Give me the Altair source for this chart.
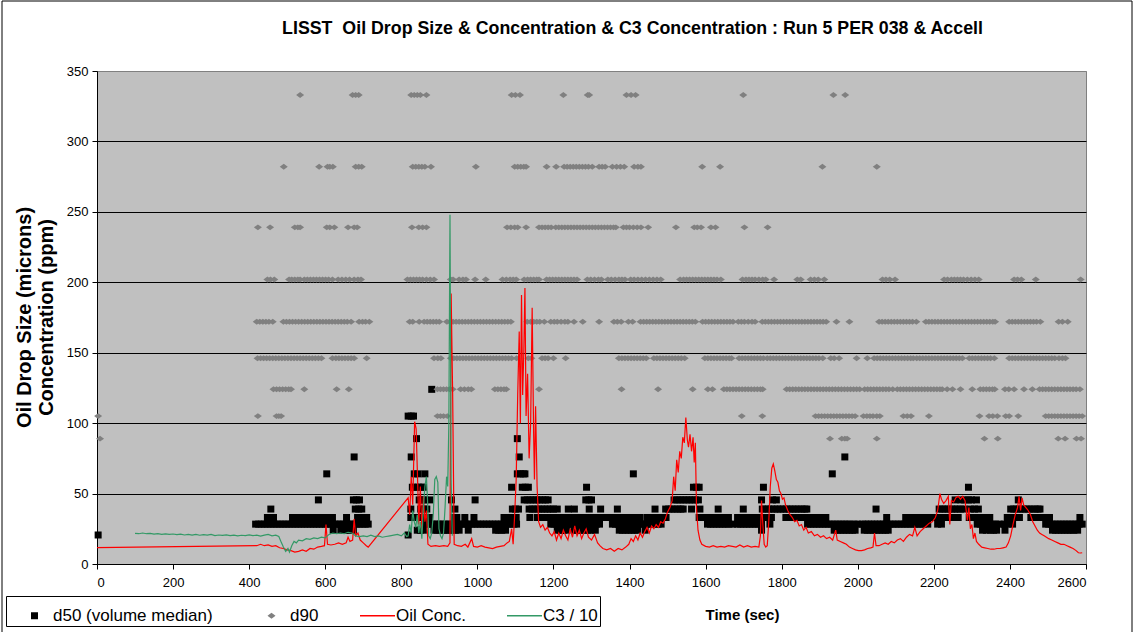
import altair as alt
import pandas as pd

TITLE = "LISST\u00a0 Oil Drop Size & Concentration & C3 Concentration : Run 5 PER 038 & Accell"
SERIES = ["d50 (volume median)", "d90", "Oil Conc.", "C3 / 10"]
COLORS = ["#000000", "#808080", "#FF0000", "#339966"]
X_TICKS = list(range(0, 2601, 200))
Y_TICKS = list(range(0, 351, 50))

# ---------------- d90 (grey diamonds): times (s) at each size bin (microns)
d90_333 = [534, 672, 680, 688, 826, 834, 842, 850, 866, 1090, 1100, 1112, 1226, 1290, 1294,
           1392, 1404, 1416, 1699, 1936, 1967]
d90_282 = [491, 584, 606, 612, 620, 680, 688, 696, 830, 838, 846, 854, 862, 878, 996, 1098,
           1106, 1114, 1122, 1128, 1182, 1207, 1228, 1236, 1244, 1252, 1260, 1268, 1276, 1284,
           1292, 1302, 1320, 1328, 1336, 1355, 1366, 1376, 1386, 1412, 1422, 1430, 1591, 1638,
           1907, 2050]
d90_239 = [423, 455, 520, 528, 534, 604, 612, 624, 660, 676, 684, 828, 846, 856, 866, 1078,
           1088, 1098, 1106, 1128, 1162, 1170, 1178, 1186, 1194, 1206, 1214, 1222, 1230, 1238,
           1246, 1254, 1262, 1270, 1278, 1286, 1294, 1302, 1310, 1318, 1326, 1334, 1342, 1350,
           1358, 1364, 1384, 1392, 1400, 1410, 1420, 1430, 1449, 1522, 1570, 1578, 1588, 1614,
           1626, 1702, 1763]
d90_202 = [448, 456, 466, 505, 512, 520, 528, 534, 545, 553, 561, 569, 577, 585, 593, 601,
           609, 619, 634, 644, 654, 664, 676, 686, 694, 816, 824, 832, 840, 848, 856, 866, 876,
           886, 930, 936, 952, 962, 970, 994, 1022, 1066, 1076, 1086, 1094, 1102, 1123, 1132,
           1140, 1148, 1156, 1162, 1182, 1190, 1198, 1206, 1214, 1222, 1230, 1238, 1246, 1254,
           1262, 1289, 1298, 1308, 1318, 1326, 1343, 1352, 1362, 1372, 1380, 1388, 1403, 1412,
           1422, 1432, 1442, 1452, 1462, 1472, 1482, 1533, 1542, 1550, 1558, 1566, 1574, 1582,
           1590, 1598, 1606, 1614, 1622, 1630, 1640, 1697, 1706, 1714, 1722, 1730, 1740, 1750,
           1758, 1780, 1841, 1850, 1876, 1886, 1896, 1912, 2065, 2074, 2084, 2098, 2227, 2236,
           2246, 2254, 2262, 2270, 2278, 2288, 2298, 2308, 2318, 2411, 2420, 2430, 2468, 2586]
d90_172 = [420, 428, 436, 444, 452, 462, 490, 498, 506, 514, 522, 530, 538, 546, 554, 562,
           570, 578, 586, 594, 602, 610, 618, 626, 634, 642, 650, 658, 668, 689, 698, 706, 716,
           822, 830, 847, 860, 868, 876, 884, 892, 900, 920, 928, 936, 944, 952, 960, 968, 976,
           984, 992, 1000, 1008, 1016, 1024, 1032, 1040, 1048, 1056, 1064, 1072, 1080, 1088,
           1131, 1140, 1148, 1156, 1164, 1176, 1193, 1202, 1210, 1220, 1230, 1238, 1254, 1277,
           1320, 1359, 1368, 1378, 1397, 1408, 1429, 1437, 1445, 1453, 1461, 1469, 1477, 1485,
           1493, 1501, 1509, 1517, 1525, 1533, 1541, 1549, 1557, 1565, 1573, 1592, 1600, 1608,
           1616, 1624, 1632, 1640, 1648, 1656, 1664, 1672, 1686, 1694, 1702, 1712, 1722, 1730,
           1749, 1757, 1765, 1773, 1781, 1789, 1797, 1805, 1813, 1821, 1829, 1837, 1845, 1853,
           1861, 1869, 1877, 1885, 1893, 1901, 1909, 1917, 1944, 1978, 2056, 2064, 2072, 2080,
           2088, 2096, 2104, 2112, 2120, 2128, 2136, 2144, 2154, 2179, 2187, 2195, 2203, 2211,
           2219, 2227, 2235, 2243, 2251, 2259, 2267, 2275, 2283, 2291, 2299, 2307, 2315, 2323,
           2331, 2339, 2347, 2355, 2361, 2398, 2406, 2414, 2422, 2430, 2438, 2446, 2454, 2462,
           2470, 2480, 2528, 2538, 2552]
d90_146 = [422, 430, 438, 446, 454, 462, 470, 478, 486, 494, 502, 510, 518, 526, 534, 542,
           550, 558, 566, 574, 582, 590, 619, 628, 636, 644, 652, 660, 668, 676, 709, 886, 896,
           904, 930, 938, 946, 954, 962, 970, 978, 986, 994, 1002, 1010, 1018, 1026, 1034, 1042,
           1050, 1058, 1066, 1074, 1082, 1090, 1103, 1134, 1142, 1170, 1178, 1186, 1200, 1232,
           1372, 1380, 1388, 1396, 1404, 1412, 1420, 1428, 1436, 1444, 1464, 1472, 1480, 1488,
           1496, 1504, 1512, 1520, 1528, 1536, 1545, 1598, 1606, 1614, 1622, 1630, 1638, 1646,
           1654, 1662, 1668, 1688, 1696, 1704, 1712, 1720, 1728, 1736, 1744, 1752, 1762, 1770,
           1778, 1786, 1794, 1802, 1810, 1818, 1826, 1834, 1842, 1850, 1858, 1866, 1874, 1882,
           1890, 1898, 1908, 1929, 1938, 1951, 1997, 2025, 2043, 2051, 2059, 2067, 2075, 2083,
           2091, 2099, 2107, 2115, 2123, 2131, 2139, 2146, 2155, 2163, 2171, 2179, 2187, 2195,
           2203, 2211, 2219, 2227, 2235, 2243, 2251, 2259, 2267, 2275, 2293, 2301, 2309, 2317,
           2325, 2333, 2341, 2349, 2359, 2398, 2406, 2414, 2422, 2430, 2438, 2446, 2454, 2462,
           2470, 2478, 2486, 2494, 2502, 2510, 2518, 2529, 2538, 2546]
d90_124 = [464, 472, 480, 488, 496, 504, 510, 545, 630, 662, 895, 903, 911, 919, 927, 935,
           956, 966, 976, 984, 1046, 1054, 1062, 1070, 1076, 1162, 1379, 1475, 1566, 1606, 1618,
           1648, 1656, 1664, 1672, 1680, 1688, 1696, 1704, 1712, 1720, 1728, 1736, 1744, 1750,
           1813, 1821, 1829, 1837, 1845, 1853, 1861, 1869, 1877, 1885, 1893, 1901, 1909, 1917,
           1925, 1933, 1941, 1949, 1957, 1965, 1973, 1981, 1989, 1997, 2005, 2018, 2026, 2034,
           2042, 2050, 2058, 2066, 2074, 2082, 2092, 2104, 2112, 2120, 2128, 2136, 2144, 2152,
           2160, 2168, 2176, 2184, 2192, 2200, 2208, 2216, 2222, 2235, 2249, 2270, 2301, 2322,
           2330, 2338, 2346, 2354, 2360, 2387, 2397, 2411, 2437, 2459, 2478, 2486, 2494, 2502,
           2510, 2518, 2526, 2534, 2542, 2550, 2558, 2566, 2574, 2584]
d90_105 = [3, 423, 472, 478, 484, 895, 903, 911, 921, 1695, 1749, 1889, 1897, 1905, 1913,
           1921, 1929, 1937, 1945, 1953, 1961, 1969, 1977, 1985, 1993, 2015, 2024, 2032, 2040,
           2050, 2058, 2120, 2130, 2140, 2187, 2320, 2345, 2355, 2367, 2389, 2398, 2422, 2494,
           2502, 2510, 2518, 2526, 2534, 2542, 2550, 2558, 2566, 2574, 2582, 2590]
d90_89 = [8, 1927, 1958, 1966, 1972, 2050, 2333, 2368, 2527, 2545, 2575, 2587]

# ---------------- d50 (black squares): times (s) at each size bin (microns)
d50_124 = [880]
d50_105 = [818, 826, 832]
d50_89 = [840, 1105]
d50_76 = [676, 826, 1110, 1966]
d50_64 = [604, 834, 844, 862, 1105, 1113, 1121, 1125, 1410, 1933]
d50_55 = [829, 837, 845, 853, 858, 1090, 1118, 1126, 1134, 1287, 1568, 1576, 1583, 1752, 2291]
d50_46 = [582, 674, 682, 690, 847, 855, 862, 875, 932, 994, 1123, 1131, 1139, 1147, 1155,
          1163, 1171, 1179, 1186, 1285, 1293, 1300, 1517, 1525, 1533, 1541, 1549, 1557, 1565,
          1573, 1581, 1747, 1776, 1786, 2256, 2271, 2281, 2291, 2299, 2312, 2422]
d50_39 = [457, 679, 688, 696, 825, 851, 859, 867, 941, 1092, 1100, 1108, 1136, 1144, 1152,
          1160, 1168, 1176, 1184, 1192, 1200, 1210, 1239, 1255, 1294, 1324, 1368, 1467, 1495,
          1503, 1511, 1519, 1527, 1535, 1541, 1563, 1585, 1633, 1699, 1749, 1757, 1765, 1773,
          1781, 1789, 1797, 1805, 1813, 1821, 1829, 1837, 1845, 1853, 1861, 1866, 2048, 2214,
          2222, 2230, 2238, 2246, 2254, 2262, 2270, 2280, 2297, 2307, 2317, 2402, 2410, 2418,
          2426, 2434, 2442, 2450, 2458, 2466, 2474, 2479]
d50_33 = [448, 456, 464, 514, 522, 530, 538, 546, 554, 562, 570, 578, 586, 601, 610, 619,
          656, 685, 694, 702, 709, 825, 833, 841, 849, 857, 865, 874, 939, 946, 967, 991, 1070,
          1078, 1086, 1094, 1102, 1138, 1158, 1166, 1174, 1182, 1190, 1198, 1206, 1214, 1222,
          1230, 1241, 1249, 1257, 1265, 1273, 1281, 1289, 1297, 1305, 1313, 1321, 1330, 1340,
          1348, 1356, 1364, 1381, 1389, 1397, 1412, 1420, 1428, 1447, 1455, 1463, 1471, 1479,
          1487, 1496, 1583, 1591, 1599, 1607, 1615, 1623, 1631, 1639, 1647, 1660, 1684, 1692,
          1700, 1708, 1716, 1724, 1732, 1739, 1749, 1757, 1765, 1773, 1811, 1819, 1827, 1835,
          1843, 1851, 1859, 1867, 1875, 1883, 1891, 1899, 1907, 1916, 2076, 2126, 2134, 2142,
          2150, 2158, 2166, 2174, 2182, 2190, 2198, 2206, 2214, 2224, 2236, 2244, 2251, 2264,
          2293, 2301, 2308, 2323, 2331, 2339, 2347, 2393, 2401, 2409, 2417, 2425, 2455, 2463,
          2471, 2479, 2487, 2495, 2504, 2584]
d50_28 = [417, 425, 433, 441, 449, 457, 465, 473, 481, 489, 497, 505, 513, 521, 529, 537,
          545, 553, 561, 569, 577, 585, 593, 601, 609, 617, 625, 633, 641, 649, 657, 665, 673,
          681, 689, 697, 705, 713, 864, 872, 880, 888, 896, 904, 912, 920, 928, 936, 944, 952,
          960, 968, 976, 984, 992, 1000, 1008, 1016, 1024, 1032, 1040, 1048, 1056, 1064, 1072,
          1080, 1088, 1096, 1103, 1193, 1201, 1209, 1217, 1225, 1233, 1241, 1249, 1257, 1265,
          1273, 1281, 1289, 1297, 1305, 1313, 1321, 1355, 1363, 1371, 1379, 1387, 1395, 1403,
          1411, 1419, 1427, 1435, 1443, 1451, 1459, 1467, 1475, 1483, 1605, 1613, 1621, 1629,
          1637, 1645, 1653, 1661, 1671, 1684, 1692, 1700, 1708, 1716, 1724, 1732, 1740, 1747,
          1769, 1868, 1876, 1884, 1892, 1900, 1908, 1916, 1924, 1932, 1940, 1948, 1956, 1964,
          1972, 1980, 1990, 2000, 2012, 2020, 2028, 2036, 2044, 2052, 2060, 2068, 2076, 2084,
          2092, 2100, 2108, 2116, 2124, 2132, 2140, 2148, 2156, 2164, 2172, 2184, 2210, 2220,
          2314, 2322, 2330, 2338, 2346, 2354, 2362, 2372, 2385, 2395, 2407, 2494, 2502, 2510,
          2518, 2526, 2534, 2542, 2550, 2558, 2566, 2574, 2582, 2590]
d50_24 = [621, 641, 650, 658, 666, 674, 842, 850, 858, 886, 894, 902, 910, 918, 926, 934,
          942, 952, 976, 1048, 1056, 1064, 1074, 1210, 1218, 1226, 1234, 1254, 1262, 1270,
          1280, 1290, 1300, 1310, 1373, 1381, 1389, 1397, 1405, 1413, 1421, 1441, 1747, 1938,
          1946, 1954, 1962, 1970, 1978, 1986, 1993, 2017, 2025, 2033, 2041, 2049, 2057, 2065,
          2073, 2080, 2328, 2338, 2349, 2357, 2365, 2387, 2512, 2520, 2528, 2536, 2544, 2552,
          2560, 2568, 2578]
d50_21 = [3, 818]

# ---------------- Oil Conc. (ppm)
oil_t = [0, 420, 430, 440, 450, 460, 470, 480, 490, 500, 510, 520, 530, 540, 550, 560, 570,
         580, 590, 598, 602, 606, 615, 625, 635, 645, 655, 660, 665, 672, 676, 680, 686, 692,
         700, 708, 713, 818, 822, 826, 830, 835, 839, 843, 846, 850, 854, 858, 862, 866, 870,
         878, 890, 900, 912, 922, 928, 931, 935, 939, 948, 958, 968, 975, 985, 990, 1000, 1010,
         1020, 1030, 1040, 1050, 1060, 1070, 1078, 1084, 1090, 1094, 1098, 1102, 1106, 1110,
         1113, 1116, 1119, 1122, 1125, 1128, 1132, 1136, 1140, 1144, 1148, 1150, 1153, 1157,
         1161, 1166, 1172, 1178, 1184, 1190, 1196, 1202, 1208, 1214, 1220, 1226, 1232, 1238,
         1244, 1250, 1256, 1262, 1268, 1274, 1280, 1286, 1292, 1300, 1308, 1316, 1322, 1330,
         1340, 1350, 1360, 1370, 1380, 1390, 1398, 1404, 1410, 1416, 1422, 1428, 1434, 1440,
         1446, 1452, 1458, 1464, 1470, 1476, 1482, 1488, 1494, 1500, 1506, 1512, 1516, 1520,
         1524, 1528, 1532, 1536, 1540, 1544, 1548, 1552, 1555, 1559, 1563, 1567, 1570, 1573,
         1576, 1580, 1585, 1590, 1600, 1610, 1620, 1630, 1640, 1650, 1660, 1670, 1680, 1690,
         1700, 1710, 1720, 1730, 1740, 1744, 1747, 1750, 1754, 1758, 1762, 1766, 1770, 1774,
         1778, 1782, 1786, 1790, 1794, 1798, 1802, 1806, 1810, 1816, 1822, 1828, 1834, 1840,
         1846, 1852, 1858, 1864, 1870, 1878, 1886, 1894, 1902, 1910, 1918, 1926, 1934, 1942,
         1946, 1954, 1962, 1970, 1978, 1986, 1994, 2002, 2010, 2018, 2026, 2034, 2040, 2044,
         2048, 2056, 2064, 2072, 2080, 2088, 2096, 2104, 2112, 2120, 2128, 2136, 2144, 2150,
         2156, 2164, 2172, 2180, 2188, 2196, 2204, 2210, 2216, 2220, 2226, 2232, 2238, 2242,
         2246, 2252, 2258, 2264, 2270, 2276, 2282, 2288, 2292, 2296, 2300, 2304, 2308, 2312,
         2318, 2326, 2334, 2342, 2350, 2358, 2366, 2374, 2382, 2390, 2396, 2402, 2408, 2414,
         2420, 2424, 2428, 2432, 2436, 2442, 2448, 2454, 2460, 2466, 2472, 2478, 2484, 2490,
         2496, 2502, 2510, 2518, 2526, 2534, 2542, 2550, 2558, 2566, 2574, 2580, 2586, 2590]
oil_v = [11.6, 13.0, 14, 13, 13.5, 12.5, 13, 11.5, 11, 10, 9.5, 8.5, 9, 10, 9, 11, 10.5,
         12, 12.5, 13, 28, 14, 13.5, 14, 15, 14, 15, 19, 16, 17, 32, 20, 22, 17,
         15, 13, 12, 47, 35, 62, 42, 101, 96, 58, 28, 55, 24, 48, 30, 38, 14,
         12.5, 13, 12.5, 13, 12.5, 15, 192, 120, 14, 13, 12.5, 14, 12, 18, 12.5, 12, 13,
         12, 11.5, 11, 12, 12.5, 13, 15, 16, 25, 14, 35, 60, 120, 165,
         100, 191, 120, 150, 196, 105, 135, 75, 100, 182, 90, 60, 112, 55,
         30, 26, 28, 24, 26, 22, 20, 23, 17, 22, 18, 24, 20, 17,
         25, 19, 27, 20, 24, 18, 22, 25, 19, 17, 21, 15, 13, 11,
         10, 11, 9, 11, 10, 12, 14, 18, 16, 20, 17, 22, 19, 23,
         26, 22, 27, 25, 28, 26, 30, 29, 32, 37, 40, 45, 62, 52,
         74, 65, 80, 75, 90, 86, 104, 88, 83, 92, 80, 90, 72, 86,
         40, 24, 17, 14, 12.5, 12, 13, 12, 12.5, 12, 13, 12.5, 12, 13.5,
         12, 13, 12, 12.5, 12, 20, 45, 30, 14, 12, 13, 30, 55, 68,
         71, 66, 60, 58, 52, 50, 46, 47, 42, 38, 35, 33, 30, 31,
         27, 28, 24, 26, 22, 23, 20, 21, 19, 20, 18, 19, 17, 24,
         17, 16, 15, 14, 12, 11, 10, 9.5, 9.5, 10, 11, 11.5, 12, 22,
         13, 13, 14, 15, 14, 16, 15, 17, 18, 16, 19, 21, 20, 26,
         20, 23, 25, 27, 29, 30, 33, 38, 50, 46, 43, 45, 48, 28,
         45, 44, 47, 48, 46, 48, 45, 31, 40, 25, 28, 18, 22, 16,
         14, 12, 11.5, 11, 10.5, 10.5, 11, 11, 11.5, 12, 15, 20, 28, 35,
         40, 48, 38, 47, 42, 40, 38, 35, 30, 27, 24, 22, 21, 20,
         19, 18, 17, 16, 15, 14, 14, 13, 12, 11, 9.5, 8, 7.8, 8]

# ---------------- C3 / 10
c3_t = [100, 110, 120, 130, 140, 150, 160, 170, 180, 190, 200, 210, 220, 230, 240, 250, 260,
        270, 280, 290, 300, 310, 320, 330, 340, 350, 360, 370, 380, 390, 400, 410, 420, 430,
        440, 450, 460, 470, 478, 485, 490, 496, 502, 506, 512, 518, 524, 530, 540, 550, 560,
        570, 580, 590, 600, 610, 620, 630, 640, 650, 660, 670, 680, 690, 700, 710, 720, 730,
        740, 750, 760, 770, 780, 790, 800, 808, 814, 818, 822, 826, 830, 834, 838, 842, 846,
        850, 854, 858, 862, 866, 869, 872, 876, 880, 884, 888, 892, 896, 899, 903, 907, 911,
        915, 919, 922, 925, 928, 931, 934]
c3_v = [21.8, 21.5, 22, 21.5, 21.8, 21.2, 21.6, 21, 21.4, 21, 21.3, 20.8, 21.2, 20.6, 21,
        20.5, 21, 20.4, 20.8, 20.5, 21, 20.2, 20.6, 20.3, 20.7, 20.2, 20.5, 20, 20.4, 20.2,
        20.6, 20.1, 20.5, 19.8, 20.5, 21, 20, 20.5, 19.5, 15, 12, 9, 11, 8.5, 13, 16, 15, 17,
        16.5, 18, 17.5, 18.5, 18, 19, 18.5, 21, 22, 21.5, 22, 21.5, 22.5, 22, 20, 19.5, 20,
        19.5, 20.5, 19.5, 20, 19, 19.5, 20, 20.5, 21, 20, 22, 19.5, 20, 28, 22, 38, 30, 26,
        35, 22, 30, 18, 40, 55, 62, 45, 20, 18, 22, 35, 60, 62, 58, 25, 20, 18, 22, 40, 62,
        55, 100, 248, 60, 20]

d90_bins = [(333, d90_333), (282, d90_282), (239, d90_239), (202, d90_202), (172, d90_172),
            (146, d90_146), (124, d90_124), (105, d90_105), (89, d90_89)]
d50_bins = [(124, d50_124), (105, d50_105), (89, d50_89), (76, d50_76), (64, d50_64),
            (54.5, d50_55), (45.5, d50_46), (39, d50_39), (33, d50_33), (28.3, d50_28),
            (24, d50_24), (20.6, d50_21)]

pts = []
for lvl, ts in d50_bins:
    pts += [{"t": t, "v": lvl, "series": SERIES[0]} for t in ts]
for lvl, ts in d90_bins:
    pts += [{"t": t, "v": lvl, "series": SERIES[1]} for t in ts]
points_df = pd.DataFrame(pts)

lines_df = pd.concat([
    pd.DataFrame({"t": oil_t, "v": oil_v, "series": SERIES[2]}),
    pd.DataFrame({"t": c3_t, "v": c3_v, "series": SERIES[3]}),
])

FONT = "Liberation Sans"
SQUARE = "M-0.2,-0.2L0.2,-0.2L0.2,0.2L-0.2,0.2Z"
DIAMOND = "M-0.23,0L0,-0.17L0.23,0L0,0.17Z"
LINE = "M-1,-0.045L1,-0.045L1,0.045L-1,0.045Z"

color_scale = alt.Scale(domain=SERIES, range=COLORS)
shape_scale = alt.Scale(domain=SERIES, range=[SQUARE, DIAMOND, LINE, LINE])
x_scale = alt.Scale(domain=[0, 2600], nice=False, zero=False)
y_scale = alt.Scale(domain=[0, 350], nice=False)

x_axis = alt.Axis(values=X_TICKS, grid=False, tickSize=5, tickColor="black", domainColor="black",
                  labelFontSize=13, labelFont=FONT, labelColor="black", labelPadding=7,
                  title="Time (sec)", titleFont=FONT, titleFontSize=15, titleFontWeight="bold",
                  titleColor="black", titleX=645, titleY=50, titleBaseline="middle",
                  titleAlign="center", format="d")
y_axis = alt.Axis(values=Y_TICKS, grid=True,
                  gridColor=alt.condition(alt.datum.value == 350, alt.value("#808080"), alt.value("black")),
                  tickSize=5, tickColor="black", domainColor="black",
                  labelFontSize=13, labelFont=FONT, labelColor="black", labelPadding=4,
                  title=["Oil Drop Size (microns)", "Concentration (ppm)"], titleFont=FONT,
                  titleFontSize=20, titleFontWeight="bold", titleColor="black",
                  titleLineHeight=22, titleX=-83, titleY=246, titleBaseline="top",
                  titleAlign="center", titleAngle=270)

legend = alt.Legend(orient="none", legendX=-91, legendY=525, direction="horizontal",
                    title=None, labelFont=FONT, labelFontSize=17, labelColor="black",
                    symbolSize=1225, columnPadding=32, padding=2, symbolOffset=9,
                    strokeColor="black", fillColor="white", labelOffset=1,
                    symbolStrokeWidth=0, columns=4)

border = alt.Chart(pd.DataFrame({"k": [0]})).mark_rect(
    fill="transparent", stroke="black", strokeWidth=1
).encode(x=alt.value(-95), x2=alt.value(1035), y=alt.value(-70), y2=alt.value(620))

points = alt.Chart(points_df).mark_point(filled=True, size=1225, opacity=1, strokeWidth=0).encode(
    x=alt.X("t:Q", scale=x_scale, axis=x_axis),
    y=alt.Y("v:Q", scale=y_scale, axis=y_axis),
    color=alt.Color("series:N", scale=color_scale, legend=legend),
    shape=alt.Shape("series:N", scale=shape_scale, legend=legend),
)

lines = alt.Chart(lines_df).mark_line(strokeWidth=1.2).encode(
    x=alt.X("t:Q", scale=x_scale),
    y=alt.Y("v:Q", scale=y_scale),
    color=alt.Color("series:N", scale=color_scale, legend=legend),
)

chart = alt.layer(border, points, lines).properties(
    width=989, height=493,
    title=alt.Title(TITLE, font=FONT, fontSize=17.8, fontWeight="bold", color="black",
                    anchor="middle", frame="group", dx=41, dy=37, offset=0),
    autosize=alt.AutoSizeParams(type="none"),
    padding={"left": 97, "top": 71, "right": 49, "bottom": 68},
).configure_view(fill="#C0C0C0", stroke="#808080", strokeWidth=1)

chart.save("out.html", embed_options={"renderer": "svg", "actions": False})
